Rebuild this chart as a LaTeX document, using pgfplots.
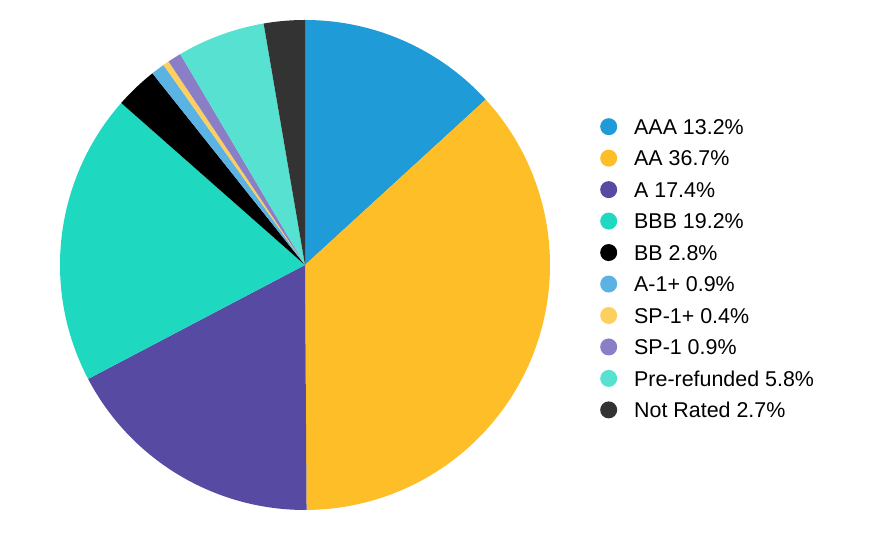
\documentclass[border=0pt]{standalone}
\usepackage{pgfplots}
\pgfplotsset{compat=1.18}
\usepackage{pgfplotstable}
\usepackage{fontspec}
\setmainfont{Liberation Sans}
\definecolor{cAAA}{HTML}{1F9BD7}
\definecolor{cAA}{HTML}{FDBE28}
\definecolor{cA}{HTML}{574AA3}
\definecolor{cBBB}{HTML}{1ED8C0}
\definecolor{cBB}{HTML}{000000}
\definecolor{cAone}{HTML}{5BB3E3}
\definecolor{cSPonep}{HTML}{FDCF5F}
\definecolor{cSPone}{HTML}{8A7FC6}
\definecolor{cPre}{HTML}{57E1D1}
\definecolor{cNR}{HTML}{333333}
\pgfplotstableread[col sep=comma]{
label,value,color
AAA,13.2,cAAA
AA,36.7,cAA
A,17.4,cA
BBB,19.2,cBBB
BB,2.8,cBB
A-1+,0.9,cAone
SP-1+,0.4,cSPonep
SP-1,0.9,cSPone
Pre-refunded,5.8,cPre
Not Rated,2.7,cNR
}\ratings
\begin{document}
\begin{tikzpicture}
\begin{axis}[
  width=876bp, height=540bp, scale only axis,
  xmin=0, xmax=876, ymin=0, ymax=540,
  hide axis, clip=false,
  legend cell align=left,
  legend style={at={(axis cs:597,424)}, anchor=north west, draw=none, fill=none,
    font=\fontsize{21.5}{25}\selectfont, row sep=11.2bp,
    nodes={inner sep=0pt, text height=15bp, text depth=4bp}},
  legend image code/.code={\fill[#1] (8.5bp,0.08cm) circle (8.5bp);
    \path[draw=none, fill=none] (0,0.08cm) rectangle (34bp,0.08cm);},
]
\path (axis cs:0,0) rectangle (axis cs:876,540);
\def\cum{0}
\pgfplotsforeachungrouped \i in {0,...,9}{
  \pgfplotstablegetelem{\i}{value}\of\ratings \let\v\pgfplotsretval
  \pgfplotstablegetelem{\i}{color}\of\ratings \let\c\pgfplotsretval
  \pgfplotstablegetelem{\i}{label}\of\ratings \let\l\pgfplotsretval
  \pgfmathsetmacro\a{90-3.6*\cum}
  \pgfmathsetmacro\b{90-3.6*(\cum+\v)}
  \pgfmathsetmacro\cum{\cum+\v}
  \edef\temp{\noexpand\addplot[fill=\c, draw=none, domain=\b:\a, samples=120]
    ({305+245*cos(x)},{275+245*sin(x)}) -- (axis cs:305,275) -- cycle;}
  \temp
  \edef\temp{\noexpand\addlegendentry{\l\space\v\noexpand\%}}
  \temp
}
\end{axis}
\end{tikzpicture}
\end{document}
